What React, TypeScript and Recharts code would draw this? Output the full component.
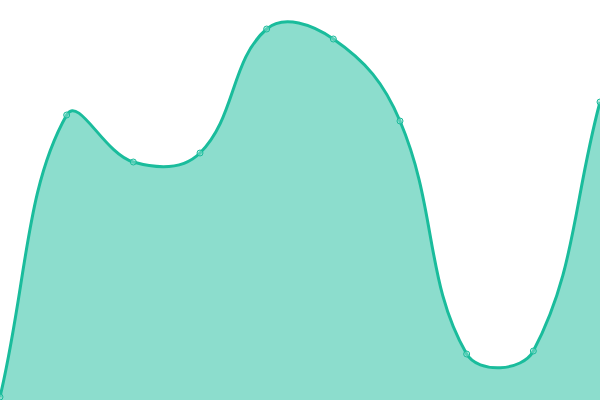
import React from "react";
import { AreaChart, Area, XAxis, YAxis } from "recharts";

const categories = ["A", "B", "C", "D", "E", "F", "G", "H", "I", "J"];
const values = [3, 285, 238, 247, 371, 361, 279, 46, 49, 298];

const data = categories.map((name, i) => ({ name, value: values[i] }));

const CHART_W = 600;
const CHART_H = 400;
const TENSION = 0.4;

// Spline curve factory: control points scaled by neighbour distances (tension 0.4),
// capped inside the plot area.
function makeSpline(tension: number, w: number, h: number) {
  return function (context: any) {
    let line: number = NaN;
    let pts: { x: number; y: number }[] = [];
    const cap = (v: number, lo: number, hi: number) => Math.max(lo, Math.min(hi, v));
    const draw = () => {
      const n = pts.length;
      if (n === 0) return;
      if (line) context.lineTo(pts[0].x, pts[0].y);
      else context.moveTo(pts[0].x, pts[0].y);
      if (n === 1) return;
      if (n === 2) {
        context.lineTo(pts[1].x, pts[1].y);
        return;
      }
      const cps: { px: number; py: number; nx: number; ny: number }[] = [];
      for (let i = 0; i < n; i++) {
        const prev = pts[Math.max(i - 1, 0)];
        const cur = pts[i];
        const next = pts[Math.min(i + 1, n - 1)];
        const d01 = Math.hypot(cur.x - prev.x, cur.y - prev.y);
        const d12 = Math.hypot(next.x - cur.x, next.y - cur.y);
        let s01 = d01 / (d01 + d12);
        let s12 = d12 / (d01 + d12);
        if (isNaN(s01)) s01 = 0;
        if (isNaN(s12)) s12 = 0;
        const fa = tension * s01;
        const fb = tension * s12;
        cps.push({
          px: cap(cur.x - fa * (next.x - prev.x), 0, w),
          py: cap(cur.y - fa * (next.y - prev.y), 0, h),
          nx: cap(cur.x + fb * (next.x - prev.x), 0, w),
          ny: cap(cur.y + fb * (next.y - prev.y), 0, h),
        });
      }
      for (let i = 1; i < n; i++) {
        context.bezierCurveTo(cps[i - 1].nx, cps[i - 1].ny, cps[i].px, cps[i].py, pts[i].x, pts[i].y);
      }
    };
    return {
      areaStart() { line = 0; },
      areaEnd() { line = NaN; },
      lineStart() { pts = []; },
      lineEnd() {
        draw();
        if (line || (line !== 0 && pts.length === 1)) context.closePath();
        line = 1 - line;
      },
      point(x: number, y: number) { pts.push({ x: +x, y: +y }); },
    };
  };
}

const spline = makeSpline(TENSION, CHART_W, CHART_H);

export default function App() {
  return (
    <div style={{ position: "fixed", top: 0, left: 0, width: CHART_W, height: CHART_H, background: "#fff" }}>
      <AreaChart width={CHART_W} height={CHART_H} data={data} margin={{ top: 0, right: 0, bottom: 0, left: 0 }}>
        <XAxis dataKey="name" hide padding={{ left: 0, right: 0 }} />
        <YAxis hide domain={[0, 400]} />
        <Area
          type={spline as any}
          dataKey="value"
          stroke="#1abc9c"
          strokeWidth={3}
          fill="#1abc9c"
          fillOpacity={0.5}
          dot={{ r: 3, fill: "#8cddcd", stroke: "#1abc9c", strokeWidth: 1 }}
          activeDot={false}
          isAnimationActive={false}
        />
      </AreaChart>
    </div>
  );
}
